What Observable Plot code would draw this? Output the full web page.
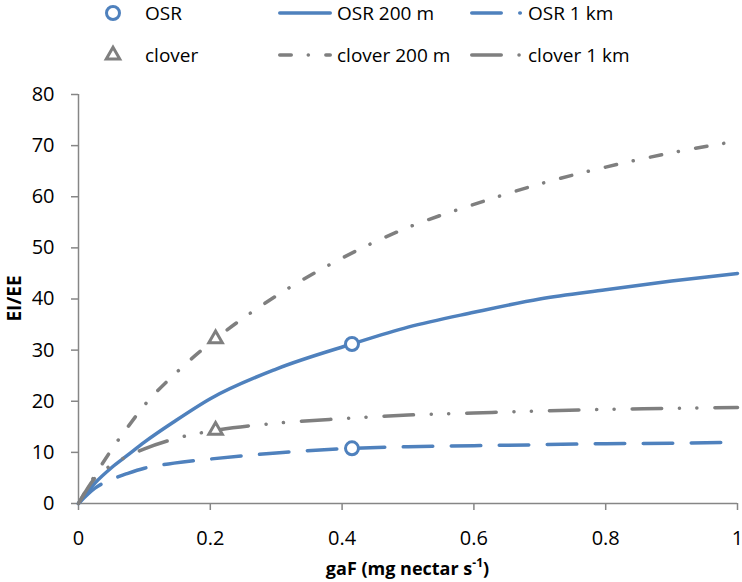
<!DOCTYPE html>
<html><head><meta charset="utf-8">
<script src="https://cdn.jsdelivr.net/npm/d3@7"></script>
<script src="https://cdn.jsdelivr.net/npm/@observablehq/plot@0.6"></script>
<style>
html,body{margin:0;padding:0;background:#fff;}
#legend svg,#chart svg{display:block;}
</style></head><body>
<div id="legend"></div>
<div id="chart"></div>
<script>
// ---- data ----
const osrX      = [0, 0.025, 0.05, 0.075, 0.1, 0.145, 0.2, 0.3, 0.415, 0.5, 0.6, 0.7, 0.8, 0.9, 1.0];
const osr200    = [0, 4.0, 7.0, 9.5, 12.0, 16.0, 20.5, 26.3, 31.2, 34.5, 37.4, 40.0, 41.8, 43.5, 45.0];
const osr1km    = [0, 3.0, 4.7, 5.9, 6.9, 7.9, 8.7, 9.9, 10.8, 11.1, 11.3, 11.5, 11.7, 11.8, 12.0];
const cloverX   = [0, 0.025, 0.05, 0.075, 0.1, 0.15, 0.208, 0.3, 0.4, 0.5, 0.6, 0.7, 0.8, 0.9, 1.0];
const clover200 = [0, 5.5, 10.5, 15.0, 19.2, 25.8, 32.2, 40.6, 48.0, 54.0, 58.5, 62.5, 65.8, 68.6, 70.9];
const clover1km = [0, 5.0, 7.5, 9.3, 10.7, 12.8, 14.3, 15.7, 16.6, 17.3, 17.7, 18.1, 18.4, 18.6, 18.8];
const osrMarkX    = [0.415, 0.415];
const osrMarkY    = [31.2, 10.8];
const cloverMarkX = [0.208, 0.208];
const cloverMarkY = [32.2, 14.3];
const xTicks = [0, 0.2, 0.4, 0.6, 0.8, 1];
const xTickLabels = ["0", "0.2", "0.4", "0.6", "0.8", "1"];
const yTicks = [0, 10, 20, 30, 40, 50, 60, 70, 80];
const seriesNames = ["OSR 200 m", "OSR 1 km", "clover 200 m", "clover 1 km"];
const markerNames = ["OSR", "clover"];
const xTitle = ["gaF (mg nectar s", "-1", ")"];
const yTitle = "EI/EE";

// ---- styles ----
const BLUE = "#4F81BD", GRAY = "#7F7F7F", AXIS = "#868686";
const FONT = "'Open Sans', sans-serif";
const LW = 3.5;
const styles = {
  "OSR 200 m":    {stroke: BLUE, dash: null},
  "OSR 1 km":     {stroke: BLUE, dash: "29.5,18.5"},
  "clover 200 m": {stroke: GRAY, dash: "11.5,17,0.1,17.5"},
  "clover 1 km":  {stroke: GRAY, dash: "29.5,17.75,0.1,17.3,0.1,18"}
};

const toRows = (xs, ys) => xs.map((x, i) => ({x, y: ys[i]}));
const lineData = {
  "OSR 200 m": toRows(osrX, osr200),
  "OSR 1 km": toRows(osrX, osr1km),
  "clover 200 m": toRows(cloverX, clover200),
  "clover 1 km": toRows(cloverX, clover1km)
};

const lineMarks = seriesNames.map(n => Plot.line(lineData[n], {
  x: "x", y: "y", stroke: styles[n].stroke, strokeWidth: LW,
  strokeDasharray: styles[n].dash, strokeLinecap: "round", strokeLinejoin: "round",
  curve: "monotone-x"
}));

const plot = Plot.plot({
  width: 742, height: 502,
  marginLeft: 78, marginRight: 5, marginTop: 14, marginBottom: 79,
  style: {fontFamily: FONT, fontSize: "20px", background: "white", color: "black"},
  x: {domain: [0, 1], ticks: xTicks, label: null},
  y: {domain: [0, 80], ticks: yTicks, label: null},
  marks: [
    Plot.axisY(yTicks, {tickSize: 7, tickPadding: 17, stroke: AXIS, strokeWidth: 1.5, color: "black", fontSize: 20, label: null}),
    Plot.axisX(xTicks, {tickSize: 7, tickPadding: 20, stroke: AXIS, strokeWidth: 1.5, color: "black", fontSize: 20, label: null,
      tickFormat: d => xTickLabels[xTicks.indexOf(d)]}),
    Plot.ruleX([0], {stroke: AXIS, strokeWidth: 1.5}),
    Plot.ruleY([0], {stroke: AXIS, strokeWidth: 1.5}),
    ...lineMarks,
    Plot.dot(toRows(osrMarkX, osrMarkY), {x: "x", y: "y", r: 6.5, fill: "white", stroke: BLUE, strokeWidth: 3}),
    Plot.dot(toRows(cloverMarkX, cloverMarkY), {x: "x", y: "y", r: 5, symbol: "triangle", fill: "white", stroke: GRAY, strokeWidth: 3})
  ]
});
document.getElementById("chart").appendChild(plot);

// axis titles (with superscript)
const svg = d3.select(plot);
const xt = svg.append("text")
  .attr("x", (78 + 737) / 2).attr("y", 495)
  .attr("text-anchor", "middle")
  .style("font-family", FONT).style("font-size", "18px").style("font-weight", "bold").attr("fill", "black");
xt.append("tspan").text(xTitle[0]);
xt.append("tspan").attr("baseline-shift", "super").style("font-size", "12px").text(xTitle[1]);
xt.append("tspan").text(xTitle[2]);
svg.append("text")
  .attr("transform", `translate(21,${(14 + 423) / 2}) rotate(-90)`)
  .attr("text-anchor", "middle")
  .style("font-family", FONT).style("font-size", "19px").style("font-weight", "bold").attr("fill", "black")
  .text(yTitle);

// ---- legend ----
const lg = d3.select("#legend").append("svg").attr("width", 742).attr("height", 80)
  .style("font-family", FONT).style("font-size", "19px");
const rowY = [13, 55];
const sym = [d3.symbol(d3.symbolCircle, Math.PI * 6.5 * 6.5), d3.symbol(d3.symbolTriangle, Math.PI * 25)];
markerNames.forEach((n, i) => {
  lg.append("path").attr("d", sym[i]()).attr("transform", `translate(113,${rowY[i]})`)
    .attr("fill", "white").attr("stroke", i === 0 ? BLUE : GRAY).attr("stroke-width", 3);
  lg.append("text").attr("x", 145).attr("y", rowY[i] + 7).attr("fill", "black").text(n);
});
const cols = [
  {names: ["OSR 200 m", "clover 200 m"], x0: 279.75, x1: 330.25, tx: 337},
  {names: ["OSR 1 km", "clover 1 km"], x0: 471.75, x1: 520.3, tx: 528}
];
cols.forEach(c => c.names.forEach((n, i) => {
  lg.append("line").attr("x1", c.x0).attr("x2", c.x1).attr("y1", rowY[i]).attr("y2", rowY[i])
    .attr("stroke", styles[n].stroke).attr("stroke-width", LW)
    .attr("stroke-dasharray", styles[n].dash).attr("stroke-linecap", "round");
  lg.append("text").attr("x", c.tx).attr("y", rowY[i] + 7).attr("fill", "black").text(n);
}));
</script>
</body></html>
